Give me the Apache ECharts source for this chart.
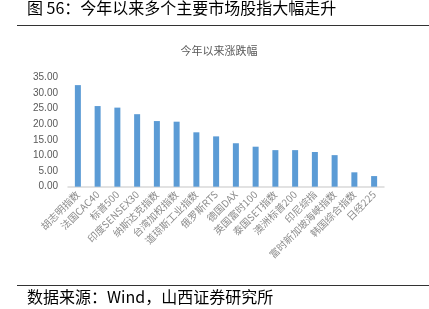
<!DOCTYPE html>
<html><head><meta charset="utf-8">
<script src="https://cdn.jsdelivr.net/npm/echarts@6/dist/echarts.min.js"></script>
<style>html,body{margin:0;padding:0;background:#fff;}#c{width:429px;height:309px;}</style>
</head><body><div id="c"></div>
<script>
const categories = ['胡志明指数','法国CAC40','标普500','印度SENSEX30','纳斯达克指数','台湾加权指数','道琼斯工业指数','俄罗斯RTS','德国DAX','英国富时100','泰国SET指数','澳洲标普200','印尼综指','富时新加坡海峡指数','韩国综合指数','日经225'];
const values = [32.5, 25.8, 25.3, 23.2, 21.0, 20.8, 17.4, 16.1, 13.9, 12.8, 11.7, 11.7, 11.1, 10.1, 4.6, 3.4];
const yTicks = [0, 5, 10, 15, 20, 25, 30, 35];

const chart = echarts.init(document.getElementById('c'));
chart.setOption({
  animation: false,
  backgroundColor: '#fff',
  title: {
    text: '今年以来涨跌幅', left: 214, textAlign: 'center', top: 40,
    textStyle: {fontSize: 11, fontWeight: 'normal', color: '#595959', fontFamily: 'Noto Sans CJK SC'}
  },
  graphic: [
    {type: 'text', left: 27, top: 0, style: {text: '图 56：今年以来多个主要市场股指大幅走升', fontSize: 16, fill: '#000', fontFamily: 'Noto Sans CJK SC'}},
    {type: 'line', shape: {x1: 17, y1: 25.5, x2: 429, y2: 25.5}, style: {stroke: '#333', lineWidth: 1}},
    {type: 'line', shape: {x1: 17, y1: 285.5, x2: 429, y2: 285.5}, style: {stroke: '#333', lineWidth: 1}},
    {type: 'text', left: 27, top: 289, style: {text: '数据来源：Wind，山西证券研究所', fontSize: 16, fill: '#000', fontFamily: 'Noto Sans CJK SC'}}
  ],
  grid: {left: 68, right: 45, top: 77.3, bottom: 122.3},
  xAxis: {
    type: 'category', data: categories,
    axisLine: {lineStyle: {color: '#d9d9d9', width: 1.5}},
    axisTick: {show: false},
    axisLabel: {rotate: 45, interval: 0, fontSize: 10, color: '#8c8c8c', margin: 6, fontFamily: 'Noto Sans CJK SC'}
  },
  yAxis: {
    type: 'value', min: 0, max: 35, interval: 5,
    splitLine: {show: false}, axisLine: {show: false}, axisTick: {show: false},
    axisLabel: {fontSize: 10, color: '#595959', margin: 10, fontFamily: 'Liberation Sans', formatter: v => v.toFixed(2)}
  },
  series: [{
    type: 'bar', data: values, barWidth: 6,
    itemStyle: {color: '#5b9bd5'}
  }]
});
</script></body></html>
